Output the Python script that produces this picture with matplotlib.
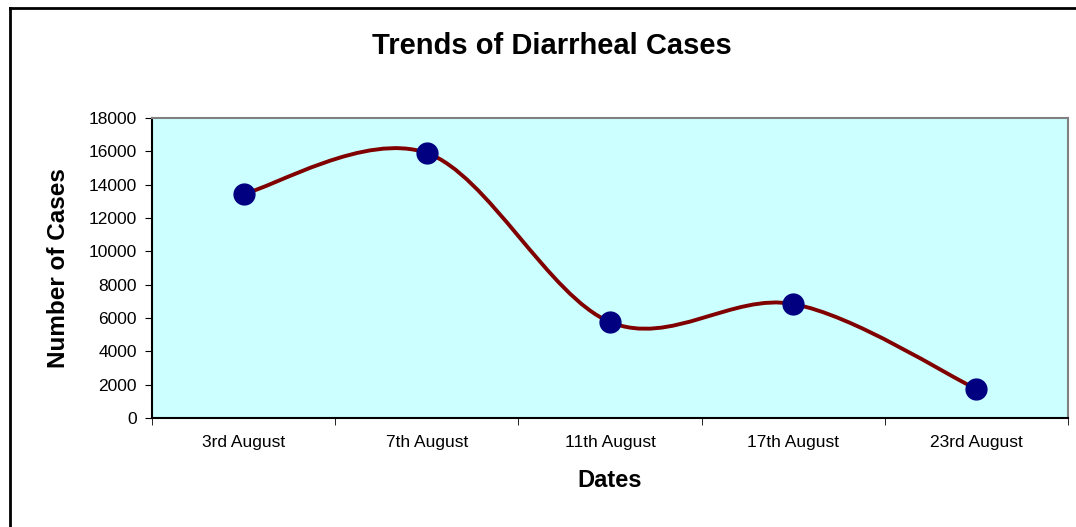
import matplotlib
matplotlib.use("Agg")
from matplotlib import pyplot as plt
from matplotlib.path import Path
from matplotlib.patches import PathPatch
from matplotlib.lines import Line2D

dates = ["3rd August", "7th August", "11th August", "17th August", "23rd August"]
cases = [13450, 15900, 5760, 6840, 1740]

plt.rcParams["font.family"] = ["Liberation Sans", "DejaVu Sans"]


def smooth_path(xs, ys):
    # Excel-style smoothed line: cubic Bezier segments with Catmull-Rom tangents
    pts = list(zip(xs, ys))
    n = len(pts)
    verts = [pts[0]]
    codes = [Path.MOVETO]
    for i in range(n - 1):
        p0 = pts[max(i - 1, 0)]
        p1 = pts[i]
        p2 = pts[i + 1]
        p3 = pts[min(i + 2, n - 1)]
        c1 = (p1[0] + (p2[0] - p0[0]) / 6, p1[1] + (p2[1] - p0[1]) / 6)
        c2 = (p2[0] - (p3[0] - p1[0]) / 6, p2[1] - (p3[1] - p1[1]) / 6)
        verts += [c1, c2, p2]
        codes += [Path.CURVE4] * 3
    return Path(verts, codes)


fig = plt.figure(figsize=(10.76, 5.27), dpi=100)
ax = fig.add_axes([152 / 1076, 109 / 527, 916 / 1076, 300 / 527])
ax.set_facecolor("#CCFFFF")

x = list(range(len(dates)))
ax.add_patch(PathPatch(smooth_path(x, cases), facecolor="none",
                       edgecolor="#800000", lw=2.8, zorder=2))
ax.plot(x, cases, linestyle="none", marker="o", markersize=15,
        color="#000080", zorder=3)

ax.set_xlim(-0.5, len(dates) - 0.5)
ax.set_ylim(0, 18000)
ax.set_yticks(range(0, 18001, 2000))
ax.tick_params(axis="y", labelsize=12.5, length=5, color="black", pad=6)
ax.set_xticks(x)
ax.set_xticklabels(dates)
ax.set_xticks([i - 0.5 for i in range(len(dates) + 1)], minor=True)
ax.tick_params(axis="x", which="major", length=0, labelsize=12.5, pad=12)
ax.tick_params(axis="x", which="minor", length=5, color="black")

for s in ax.spines.values():
    s.set_color("#808080")
    s.set_linewidth(1.5)
ax.spines["bottom"].set_color("black")
ax.spines["left"].set_color("black")

ax.set_ylabel("Number of Cases", fontsize=17.5, fontweight="bold", labelpad=13)
ax.set_xlabel("Dates", fontsize=17, fontweight="bold", labelpad=14)
fig.text(552 / 1076, 1 - 46 / 527, "Trends of Diarrheal Cases", fontsize=21,
         fontweight="bold", ha="center", va="center")

# outer chart frame (left and top edges visible)
fig.add_artist(Line2D([10 / 1076, 10 / 1076], [0, 1 - 8 / 527],
                      transform=fig.transFigure, color="black", lw=2))
fig.add_artist(Line2D([10 / 1076, 1], [1 - 8 / 527, 1 - 8 / 527],
                      transform=fig.transFigure, color="black", lw=2))

fig.savefig("out.png", dpi=100)
